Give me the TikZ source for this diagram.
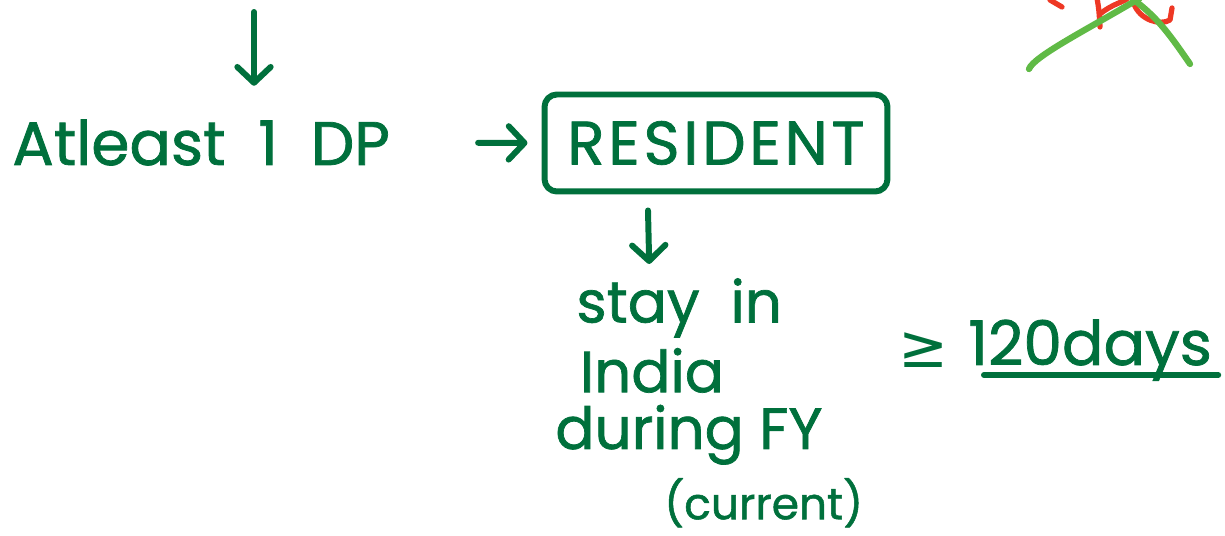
\documentclass[tikz,border=0pt]{standalone}
\usepackage{fontspec}
\setmainfont{Poppins}[FakeBold=1.2]
\newfontfamily\symfont{DejaVu Sans}
\usetikzlibrary{arrows.meta}
\definecolor{ink}{RGB}{0,112,60}
\definecolor{lightink}{RGB}{96,186,70}
\definecolor{redink}{RGB}{238,56,36}
\begin{document}
\begin{tikzpicture}[x=0.02cm,y=-0.02cm,
  pen/.style={draw=ink,line width=3.4pt,line cap=round,line join=round},
  tip/.style={-{Straight Barb[length=9pt,width=19pt,line width=3.4pt,round]}},
  txt/.style={text=ink,inner sep=0pt,anchor=base west},
  big/.style={font=\fontsize{35}{40}\selectfont},
  boxed/.style={pen,rounded corners=7pt,minimum width=6.86cm,minimum height=1.94cm,inner sep=0pt,text=ink}]
\useasboundingbox (0,0) rectangle (1225,536);

% main chain
\node[txt,big] (atleast) at (12,165) {Atleast\ \ 1\ \ DP};
\node[boxed,font=\fontsize{35}{40}\selectfont\addfontfeature{LetterSpace=6}] (resident) at (716,143) {RESIDENT};
\node[txt,anchor=north west,font=\fontsize{33}{36}\selectfont,align=left] (stay) at (555,278)
  {\hspace*{12pt}stay\ \ in\\[3.7pt]
   \hspace*{14pt}India\\[-3.7pt]
   during FY\\[4pt]
   \hspace*{62pt}{\fontsize{25}{30}\selectfont (current)}};

% condition on the right
\node[txt,font=\symfont\fontsize{34}{40}\selectfont] (ge) at (898,368) {≥};
\node[txt,big] (days) at (968,365) {120days};

\coordinate (top) at (254,12);
\draw[pen,tip,shorten >=19pt] (top) -- (top |- atleast.north);
\draw[pen,tip,shorten <=50pt,shorten >=8pt] (atleast.east) -- (resident.west);
\draw[pen,tip] ([shift={(-68,16)}]resident.south) -- ([shift={(-60,-14)}]stay.north);
\draw[pen] ([shift={(16,10)}]days.base west) -- ([shift={(6,10)}]days.base east);

% struck-out note in the corner
\begin{scope}[line width=3pt,line cap=round,line join=round,draw=redink]
  \draw (1050,0) -- (1062,7);
  \draw (1097,-2) .. controls (1099,10) .. (1100,27);
  \draw (1100,14) .. controls (1112,4) and (1124,2) .. (1128,-2);
  \draw (1134,4) .. controls (1140,20) and (1160,26) .. (1170,20) -- (1172,8);
\end{scope}
\begin{scope}[line width=3.6pt,line cap=round,draw=lightink]
  \draw (1029,69) .. controls (1034,56) and (1090,28) .. (1140,-2);
  \draw (1134,0) .. controls (1158,18) and (1170,35) .. (1190,64);
\end{scope}
\end{tikzpicture}
\end{document}
